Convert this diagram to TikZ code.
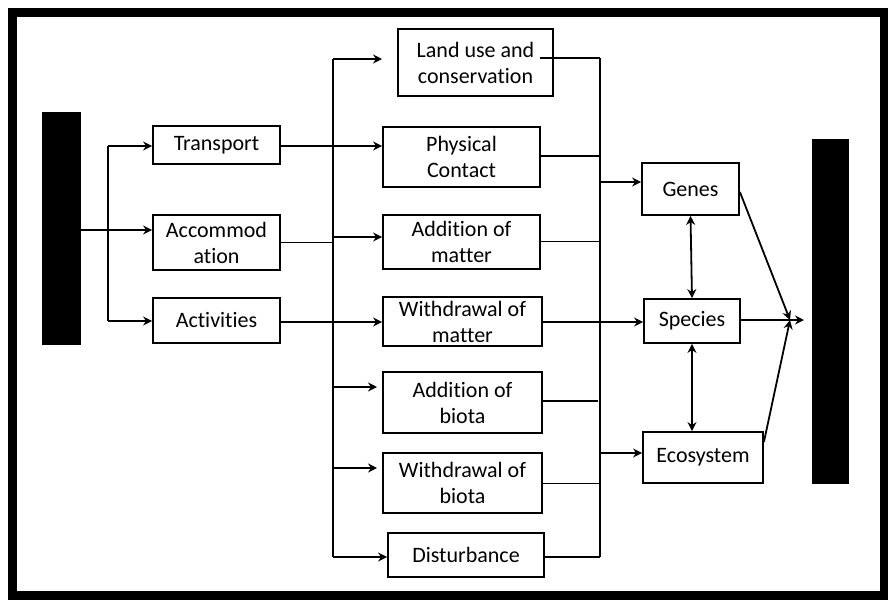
\documentclass[tikz,border=0pt]{standalone}
\usepackage{fontspec}
\setmainfont{Carlito}[Ligatures=NoCommon]
\usetikzlibrary{arrows.meta}
\begin{document}
\begin{tikzpicture}[x=1pt,y=-1pt,
  box/.style={draw,line width=1.8pt,align=center,inner sep=0pt,
    font=\fontsize{22}{26}\selectfont},
  conn/.style={line width=1.8pt},
  thin/.style={line width=1pt},
  arr/.style={line width=1.8pt,-{Stealth[length=9pt,width=9pt]}},
  darr/.style={line width=1.8pt,{Stealth[length=9pt,width=9pt]}-{Stealth[length=9pt,width=9pt]}},
  bar/.style={fill=black,draw=none}]
\useasboundingbox (0,0) rectangle (888,603);
\draw[line width=9pt] (12,12) rectangle (884,595);
% bars
\node[bar,minimum width=39pt,minimum height=233pt,inner sep=0pt] (lbar) at (61.5,228.5) {};
\node[bar,minimum width=37pt,minimum height=345pt,inner sep=0pt] (rbar) at (830.5,311.5) {};
% first column
\node[box,minimum width=127pt,minimum height=38pt] (transport) at (216.5,145) {Transport};
\node[box,minimum width=127pt,minimum height=55pt] (accom) at (216.5,242.5) {Accommod\\ation};
\node[box,minimum width=127pt,minimum height=45pt] (activ) at (216.5,320.5) {Activities};
% second column
\node[box,minimum width=155pt,minimum height=67pt] (landuse) at (475.5,62.5) {Land use and\\conservation};
\node[box,minimum width=157pt,minimum height=60pt] (phys) at (461.5,157) {Physical\\Contact};
\node[box,minimum width=157pt,minimum height=54pt] (addm) at (461.5,242) {Addition of\\matter};
\node[box,minimum width=159pt,minimum height=49pt] (withm) at (462.5,321.5) {Withdrawal of\\matter};
\node[box,minimum width=159pt,minimum height=61pt] (addb) at (462.5,402.5) {Addition of\\biota};
\node[box,minimum width=159pt,minimum height=60pt] (withb) at (462.5,483) {Withdrawal of\\biota};
\node[box,minimum width=156pt,minimum height=44pt] (dist) at (466,555) {Disturbance};
% third column
\node[box,minimum width=97pt,minimum height=52pt] (genes) at (690.5,189) {Genes};
\node[box,minimum width=96pt,minimum height=44pt] (species) at (692,321) {Species};
\node[box,minimum width=120pt,minimum height=51pt] (eco) at (703,457.5) {Ecosystem};
% coordinates
\coordinate (j0) at (108,230);
\coordinate (lt) at (333,59);
\coordinate (lb) at (333,557);
\coordinate (rt) at (600,58);
\coordinate (rb) at (600,557);
\coordinate (luend) at (382,59);
\coordinate (ab) at (377,387);
\coordinate (wb) at (377,468);
\coordinate (lustart) at (540,58);
\coordinate (jn) at (790,320);
\coordinate (jt) at (804,320);
% left fan
\draw[conn] (lbar.east |- j0) -- (j0);
\draw[conn] (108,146) -- (108,321);
\draw[arr] (108,146) -- (transport.west |- 0,146);
\draw[arr] (j0) -- (accom.west |- j0);
\draw[arr] (108,321) -- (activ.west |- 0,321);
% left trunk
\draw[conn] (lt) -- (lb);
\draw[arr] (lt) -- (luend);
\draw[arr] (transport.east |- 0,146) -- (phys.west |- 0,146);
\draw[thin] (accom.east |- 0,242) -- (333,242);
\draw[arr] (333,237) -- (addm.west |- 0,237);
\draw[arr] (activ.east |- 0,322) -- (withm.west |- 0,322);
\draw[arr] (333,387) -- (ab);
\draw[arr] (333,468) -- (wb);
\draw[arr] (lb) -- (dist.west |- lb);
% right trunk
\draw[conn] (rt) -- (rb);
\draw[conn] (lustart) -- (rt);
\draw[conn] (phys.east |- 0,156) -- (600,156);
\draw[thin] (addm.east |- 0,241) -- (600,241);
\draw[arr] (withm.east |- 0,322) -- (species.west |- 0,322);
\draw[conn] (addb.east |- 0,401) -- (598,401);
\draw[thin] (withb.east |- 0,483) -- (600,483);
\draw[conn] (dist.east |- rb) -- (rb);
\draw[arr] (600,182) -- (genes.west |- 0,182);
\draw[arr] (600,453) -- (eco.west |- 0,453);
% biodiversity links
\draw[darr] (genes.south) -- (species.north);
\draw[darr] (species.south) -- (species.south |- eco.north);
\draw[arr] (genes.east |- 0,192) -- (jn);
\draw[arr] (eco.east |- 0,442) -- (jn);
\draw[arr] (species.east |- jt) -- (jt);
\end{tikzpicture}
\end{document}
